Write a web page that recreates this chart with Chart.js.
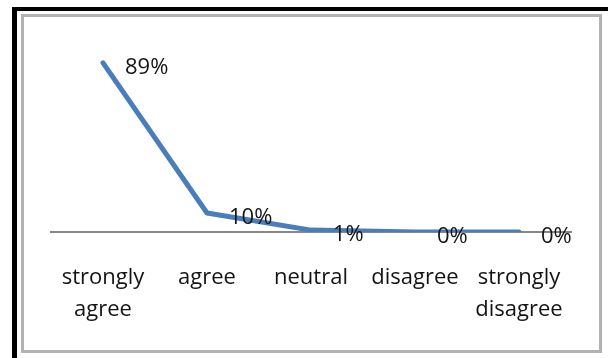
<!DOCTYPE html>
<html>
<head>
<meta charset="utf-8">
<script src="https://cdn.jsdelivr.net/npm/chart.js@4"></script>
<style>
    body { margin: 0; background: #fff; }
    .wrap { position: relative; width: 608px; height: 358px; overflow: hidden; }
    canvas { position: absolute; left: 0; top: 0; }
    .outer-frame {
        position: absolute; left: 12px; top: 7px; width: 591px; height: 360px;
        border-left: 5px solid #000; border-top: 4px solid #000; border-right: 3px solid #000;
        pointer-events: none;
    }
    .inner-frame {
        position: absolute; left: 21px; top: 14px; width: 575px; height: 333px;
        border: 3px solid #b2b2b2; pointer-events: none;
    }
</style>
</head>
<body>
<div class="wrap">
    <canvas id="responseChart" width="608" height="358"></canvas>
    <div class="outer-frame"></div>
    <div class="inner-frame"></div>
</div>
<script>
// Chart data
const categories = [['strongly', 'agree'], 'agree', 'neutral', 'disagree', ['strongly', 'disagree']];
const percentages = [89, 10, 1, 0, 0];
const valueLabels = ['89%', '10%', '1%', '0%', '0%'];

const labelFont = '22px "Open Sans"';

// Data labels to the right of each point
const valueLabelPlugin = {
    id: 'valueLabels',
    afterDatasetsDraw(chart) {
        const ctx = chart.ctx;
        const meta = chart.getDatasetMeta(0);
        ctx.save();
        ctx.font = labelFont;
        ctx.fillStyle = '#141414';
        ctx.textAlign = 'left';
        ctx.textBaseline = 'middle';
        meta.data.forEach((pt, i) => {
            ctx.fillText(valueLabels[i], pt.x + 22, pt.y + 5);
        });
        ctx.restore();
    }
};

const ctx = document.getElementById('responseChart').getContext('2d');
const responseChart = new Chart(ctx, {
    type: 'line',
    data: {
        labels: categories,
        datasets: [{
            data: percentages,
            borderColor: '#4a7ebb',
            borderWidth: 5,
            borderCapStyle: 'round',
            borderJoinStyle: 'round',
            pointRadius: 0,
            tension: 0,
            fill: false
        }]
    },
    options: {
        responsive: false,
        animation: false,
        layout: {
            padding: { left: 51, right: 37, top: 42, bottom: 0 }
        },
        plugins: {
            legend: { display: false },
            tooltip: { enabled: false }
        },
        scales: {
            y: {
                display: false,
                min: 0,
                max: 100
            },
            x: {
                offset: true,
                grid: { display: false, drawTicks: false },
                border: { display: true, color: '#878787', width: 2 },
                ticks: {
                    color: '#141414',
                    font: { family: '"Open Sans"', size: 22, lineHeight: 1.45 },
                    padding: 30,
                    maxRotation: 0,
                    autoSkip: false
                },
                afterFit(scale) {
                    scale.height = 126;
                }
            }
        }
    },
    plugins: [valueLabelPlugin]
});
</script>
</body>
</html>
